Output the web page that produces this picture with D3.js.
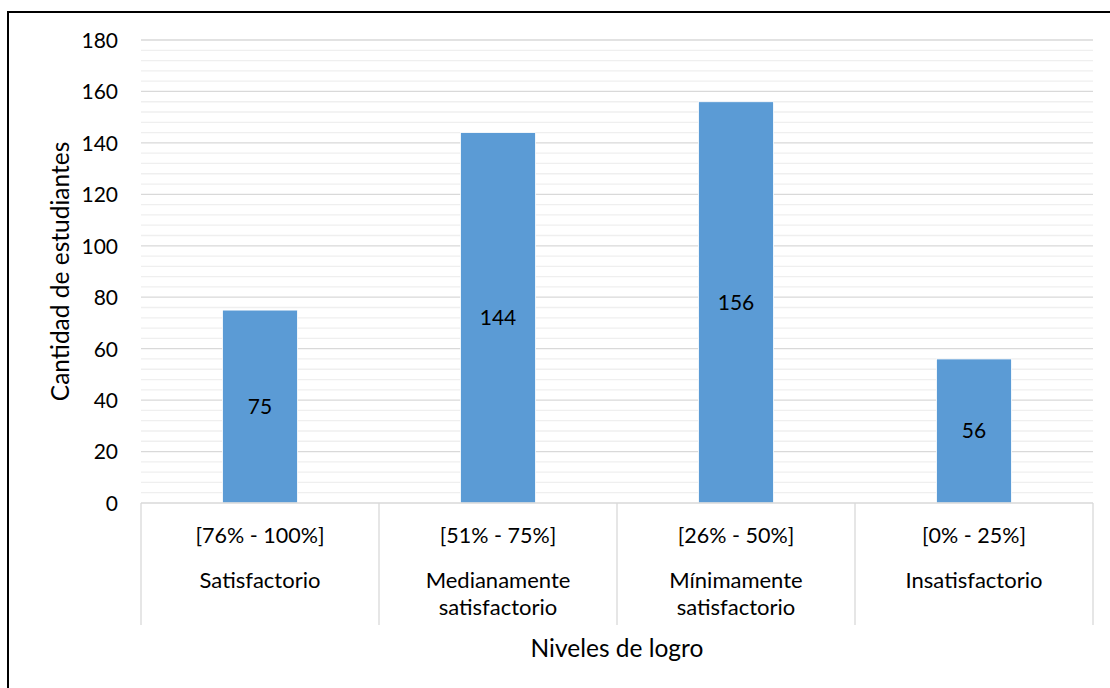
<!DOCTYPE html>
<html><head><meta charset="utf-8">
<script src="https://cdn.jsdelivr.net/npm/d3@7"></script>
<style>body{margin:0;background:#fff}svg{display:block}text{font-family:Lato,"Open Sans",sans-serif;fill:#000}</style>
</head><body>
<script>
const ranges = ["[76% - 100%]","[51% - 75%]","[26% - 50%]","[0% - 25%]"];
const levels = [["Satisfactorio"],["Medianamente","satisfactorio"],["Mínimamente","satisfactorio"],["Insatisfactorio"]];
const values = [75,144,156,56];
const yTicks = [0,20,40,60,80,100,120,140,160,180];
const minorTicks = d3.range(0,181,4);

const W=1110,H=688;
const svg=d3.select("body").append("svg").attr("width",W).attr("height",H);
svg.append("rect").attr("x",8).attr("y",12).attr("width",1200).attr("height",800)
  .attr("fill","none").attr("stroke","#000").attr("stroke-width",2);

const L=141,R=1093,T=40,B=503;
const x=d3.scaleBand().domain(d3.range(values.length)).range([L,R]).paddingInner(0).paddingOuter(0);
const y=d3.scaleLinear().domain([0,180]).range([B,T]);

svg.append("g").selectAll("line").data(minorTicks.filter(d=>d%20!==0)).join("line")
  .attr("x1",L).attr("x2",R).attr("y1",d=>y(d)).attr("y2",d=>y(d))
  .attr("stroke","#efefef").attr("stroke-width",1.3);
svg.append("g").selectAll("line").data(yTicks.filter(d=>d>0)).join("line")
  .attr("x1",L).attr("x2",R).attr("y1",d=>y(d)).attr("y2",d=>y(d))
  .attr("stroke","#d9d9d9").attr("stroke-width",1.3);

const yAxis=d3.axisLeft(y).tickValues(yTicks).tickSize(0).tickPadding(23);
const gy=svg.append("g").attr("transform",`translate(${L},0)`).call(yAxis);
gy.select(".domain").remove();
gy.selectAll("text").style("font-size","21px").attr("dy","0.35em").style("font-family","Lato,sans-serif");

const bw=x.bandwidth()*0.315;
svg.append("g").selectAll("rect").data(values).join("rect")
  .attr("x",(d,i)=>x(i)+x.bandwidth()/2-bw/2).attr("width",bw)
  .attr("y",d=>y(d)).attr("height",d=>B-y(d))
  .attr("fill","#5b9bd5").attr("stroke","#fff").attr("stroke-width",0.8);

svg.append("g").selectAll("text").data(values).join("text")
  .attr("x",(d,i)=>x(i)+x.bandwidth()/2).attr("y",d=>(y(d)+B)/2)
  .attr("text-anchor","middle").attr("dy","0.35em").style("font-size","21px").text(d=>d);

// category axis
svg.append("line").attr("x1",L).attr("x2",R).attr("y1",B).attr("y2",B).attr("stroke","#d9d9d9").attr("stroke-width",1.3);
const dividers=[...d3.range(values.length).map(i=>x(i)),R];
svg.append("g").selectAll("line").data(dividers).join("line")
  .attr("x1",d=>d).attr("x2",d=>d).attr("y1",B).attr("y2",625)
  .attr("stroke","#d9d9d9").attr("stroke-width",1.3);
svg.append("g").selectAll("text").data(ranges).join("text")
  .attr("x",(d,i)=>x(i)+x.bandwidth()/2).attr("y",535).attr("dy","0.35em")
  .attr("text-anchor","middle").style("font-size","21.5px").text(d=>d);
levels.forEach((lines,i)=>{
  lines.forEach((t,j)=>{
    svg.append("text").attr("x",x(i)+x.bandwidth()/2).attr("y",580+j*27).attr("dy","0.35em")
      .attr("text-anchor","middle").style("font-size","22px").text(t);
  });
});

svg.append("text").attr("x",(L+R)/2).attr("y",648).attr("dy","0.35em").attr("text-anchor","middle")
  .style("font-size","24.5px").text("Niveles de logro");
svg.append("text").attr("transform",`translate(60,${(T+B)/2}) rotate(-90)`).attr("dy","0.35em")
  .attr("text-anchor","middle").style("font-size","24.5px").text("Cantidad de estudiantes");
</script>
</body></html>
